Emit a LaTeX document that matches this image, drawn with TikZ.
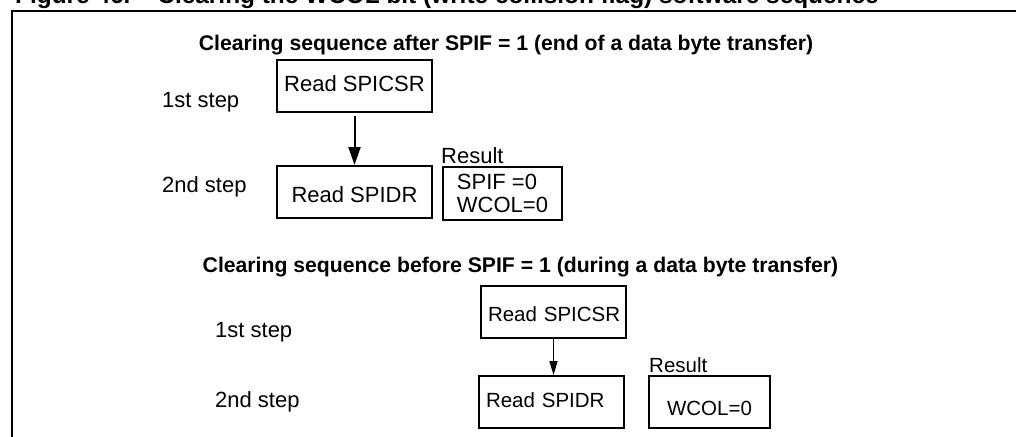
\documentclass[tikz,border=0pt]{standalone}
\usepackage{fontspec}
\setmainfont{Liberation Sans}
\usetikzlibrary{arrows.meta}
\begin{document}
\begin{tikzpicture}[x=1pt,y=-1pt,
  fa/.style={font=\fontsize{22}{23}\selectfont},
  fb/.style={font=\fontsize{20.5}{22}\selectfont},
  ttl/.style={font=\bfseries\fontsize{21.2}{24}\selectfont, inner sep=0pt, anchor=base},
  lbl/.style={inner sep=0pt, anchor=base west},
  box/.style={draw, line width=2pt, minimum height=52pt, inner sep=0pt, text depth=0pt},
  arr/.style={line width=2pt, -{Triangle[length=18pt,width=12pt]}},
  arrb/.style={line width=1.6pt, -{Triangle[length=14pt,width=8pt]}}
]
\useasboundingbox (0,0) rectangle (1016,436);
\clip (0,0) rectangle (1016,436);
% outer frame (cropped)
\draw[line width=2pt] (12,440) -- (12,11) -- (1020,11);
% cropped figure caption
\node[lbl, font=\bfseries\fontsize{24.4}{26}\selectfont] (cap) at (15,4)
  {Figure 46.\hspace{27pt}Clearing the WCOL bit (write collision flag) software sequence};

% ---------- first sequence ----------
\node[ttl] (t1) at (506,50) {Clearing sequence after SPIF = 1 (end of a data byte transfer)};
\node[lbl, fa] (s1) at (162,107) {1st step};
\node[lbl, fa] (s2) at (162,192) {2nd step};
\node[box, fa, minimum width=155pt, text height=10pt] (a1) at (354.5,86) {Read SPICSR};
\node[box, fa, minimum width=155pt, text height=20pt] (a2) at (354.5,192) {Read SPIDR};
\node[lbl, fa] (r1l) at (441,163) {Result};
\node[box, fa, minimum width=119pt, minimum height=53pt, align=left, text depth=, text height=] (r1) at (502.5,193.5) {SPIF =0\\WCOL=0};
\draw[arr, shorten <=3pt] (a1) -- (a2);

% ---------- second sequence ----------
\node[ttl] (t2) at (520.5,272) {Clearing sequence before SPIF = 1 (during a data byte transfer)};
\node[lbl, fa] (u1) at (215,337) {1st step};
\node[lbl, fa] (u2) at (215,407) {2nd step};
\node[box, fb, minimum width=145pt, text height=18pt, inner xsep=7pt, text width=131pt, align=left] (b1) at (553.5,312) {\mbox{Read SPICSR}};
\node[box, fb, minimum width=145pt, text height=10pt, inner xsep=7pt, text width=131pt, align=left] (b2) at (551.5,402) {\mbox{Read SPIDR}};
\node[lbl, fb] (r2l) at (649,372) {Result};
\node[box, fb, minimum width=121pt, text height=26pt] (r2) at (709.5,402) {WCOL=0};
\draw[arrb] (b1.south) -- (b1.south |- b2.north);
\end{tikzpicture}
\end{document}
